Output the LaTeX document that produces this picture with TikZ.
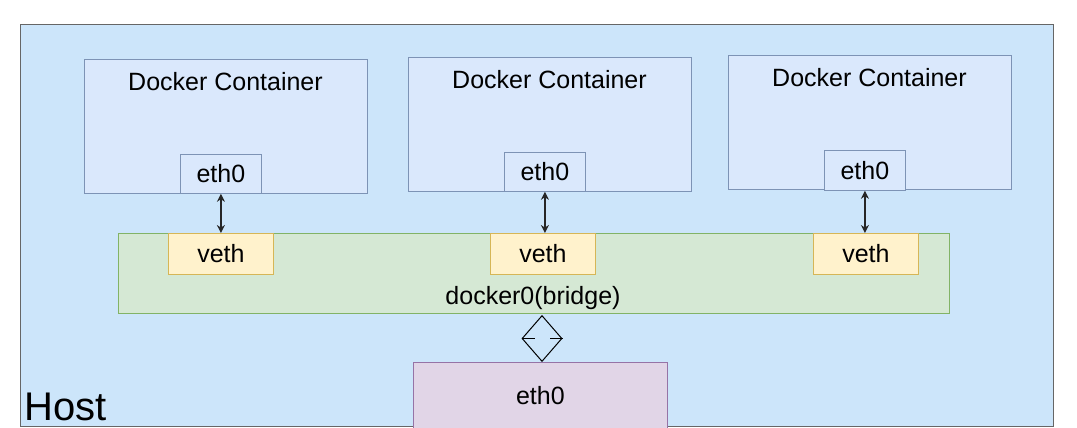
\documentclass[tikz,border=0pt]{standalone}
\usepackage{fontspec}
\setmainfont{Liberation Sans}
\usetikzlibrary{shapes.geometric,arrows.meta}
\definecolor{hostf}{HTML}{CCE5FA}
\definecolor{conf}{HTML}{DAE8FC}\definecolor{cons}{HTML}{7D93B5}
\definecolor{brf}{HTML}{D5E8D4}\definecolor{brs}{HTML}{82B366}
\definecolor{vf}{HTML}{FFF2CC}\definecolor{vs}{HTML}{D6B656}
\definecolor{ef}{HTML}{E1D5E7}\definecolor{es}{HTML}{9673A6}
\tikzset{
 box/.style={draw, line width=0.8pt, inner sep=0pt},
 txt/.style={font=\fontsize{25}{29}\selectfont},
 con/.style={box, fill=conf, draw=cons},
 veth/.style={box, fill=vf, draw=vs, txt},
 arr/.style={{Stealth[length=8pt,width=8pt]}-{Stealth[length=8pt,width=8pt]}, line width=1.3pt, black!85},
}
\begin{document}
\begin{tikzpicture}[x=1pt,y=-1pt]
\useasboundingbox (0,0) rectangle (1077,428);
\draw[box, fill=hostf, draw=gray!80!black] (20,24) rectangle (1053,426);
\node[anchor=south west, font=\fontsize{40}{46}\selectfont, inner sep=0pt] (host) at (24,421) {Host};
% containers
\foreach \n/\x/\y in {1/84/59, 2/408/57, 3/728/55}{
  \draw[con] (\x,\y) rectangle ++(283,134);
  \node[txt] (t\n) at (\x+141.5,\y+23) {Docker Container};
}
\node[con, minimum width=81pt, minimum height=39pt, anchor=north west, txt] (e1) at (180,154) {eth0};
\node[con, minimum width=81pt, minimum height=39pt, anchor=north west, txt] (e2) at (504,152) {eth0};
\node[con, minimum width=81pt, minimum height=40pt, anchor=north west, txt] (e3) at (824,150) {eth0};
% bridge
\node[box, fill=brf, draw=brs, minimum width=831pt, minimum height=80pt, anchor=north west] (br) at (118,233) {};
\node[txt] (brl) at (533,298) {docker0(bridge)};
\node[veth, minimum width=105pt, minimum height=41pt, anchor=north west] (v1) at (168,233) {veth};
\node[veth, minimum width=105pt, minimum height=41pt, anchor=north west] (v2) at (490,233) {veth};
\node[veth, minimum width=105pt, minimum height=41pt, anchor=north west] (v3) at (813,233) {veth};
\draw[arr] (e1.south) -- (e1.south |- v1.north);
\draw[arr] (e2.south) -- (e2.south |- v2.north);
\draw[arr] (e3.south) -- (e3.south |- v3.north);
% host eth0
\node[box, fill=ef, draw=es, minimum width=254pt, minimum height=66pt, anchor=north west, txt] (he) at (413,362) {eth0};
\node[diamond, draw, line width=1pt, minimum width=40pt, minimum height=46pt, inner sep=0pt, anchor=south] (d) at (542,362) {};
\draw[line width=1.2pt] (d.west) -- ++(13,0) (d.east) -- ++(-13,0);
\end{tikzpicture}
\end{document}
